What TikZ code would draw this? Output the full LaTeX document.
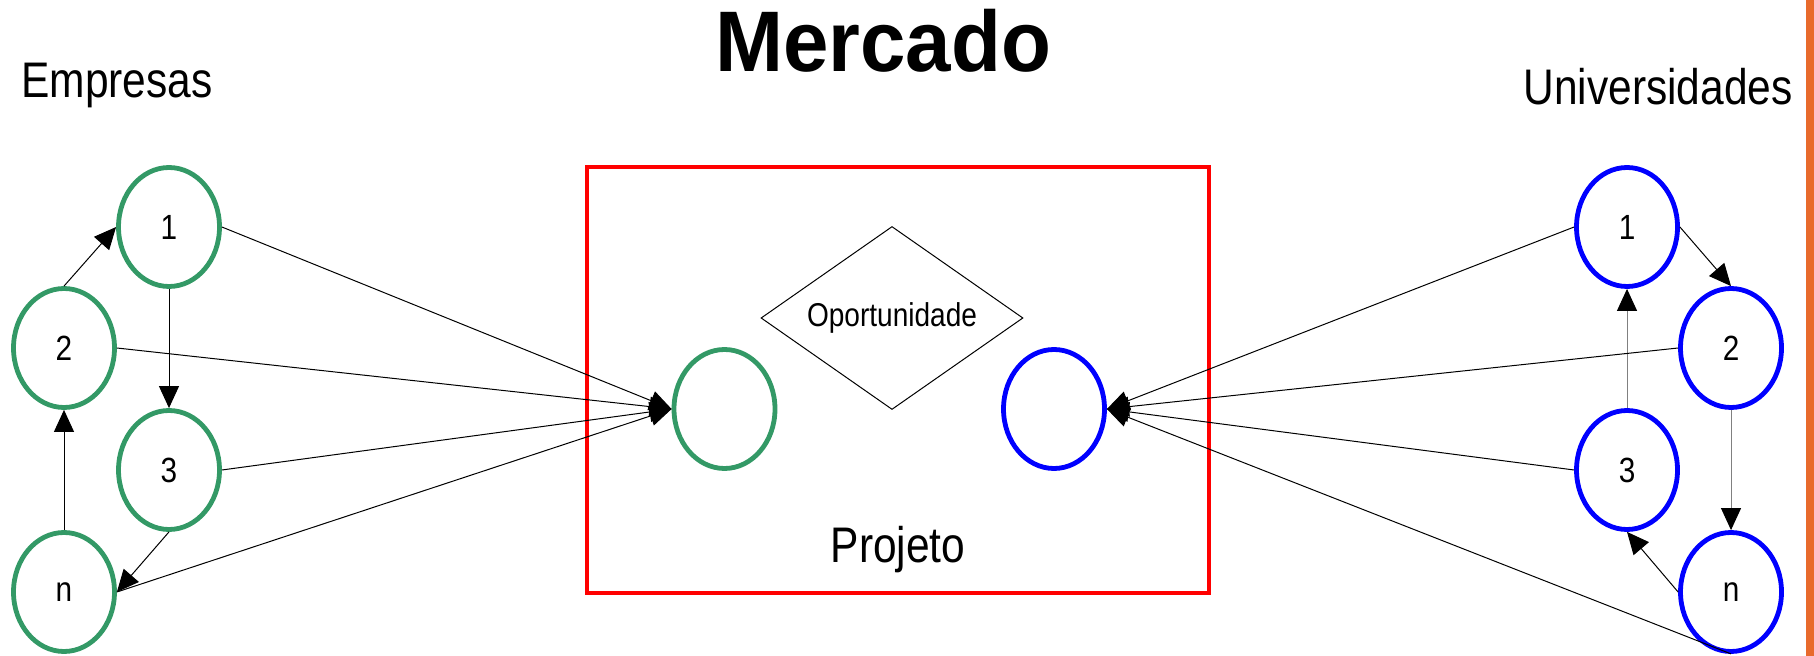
\documentclass[tikz,border=0pt]{standalone}
\usepackage{fontspec}
\setmainfont{Liberation Sans}
\usepackage{graphicx}
\usetikzlibrary{shapes.geometric,arrows.meta}
\definecolor{empgreen}{RGB}{51,153,102}
\definecolor{barorange}{RGB}{232,106,44}
\def \narrow#1{\scalebox{0.85}[1]{#1}}

\tikzset{
  agent/.style={ellipse, line width=2.4pt, minimum width=50.5pt, minimum height=59.5pt,
    inner sep=0pt, font=\fontsize{17.5}{17.5}\selectfont},
  empresa/.style={agent, draw=empgreen},
  univ/.style={agent, draw=blue},
  link/.style={line width=0.5pt, -{Triangle[length=11pt,width=10pt,color=black]}},
  label/.style={anchor=base, font=\fontsize{25}{25}\selectfont}
}

\begin{document}
\begin{tikzpicture}[x=0.5pt,y=-0.5pt]
  \useasboundingbox (0,0) rectangle (1814,656);
  \fill[barorange] (1806,0) rectangle (1814,656);

  % titulos
  \node[anchor=base, font=\fontsize{43}{43}\selectfont\bfseries] (mercado) at (883,72) {\scalebox{0.95}[1]{Mercado}};
  \node[label] (empresas) at (117,98) {\narrow{Empresas}};
  \node[label] (universidades) at (1658,105) {\narrow{Universidades}};

  % projeto
  \draw[red, line width=2pt] (587,167) rectangle (1209,593);
  \node[label] (projeto) at (898,563) {\narrow{Projeto}};
  \node[diamond, aspect=1.43, draw, line width=0.5pt, minimum width=131pt, minimum height=91.5pt,
    inner sep=0pt, font=\fontsize{16.5}{16.5}\selectfont] (oport) at (892,318) {\narrow{Oportunidade}};
  \node[empresa] (pe) at (724.5,409) {};
  \node[univ] (pu) at (1054,409) {};

  % empresas
  \node[empresa] (e1) at (169,227) {\narrow{1}};
  \node[empresa] (e2) at (64,348) {\narrow{2}};
  \node[empresa] (e3) at (169,470) {\narrow{3}};
  \node[empresa] (en) at (64,592) {\narrow{n}};

  % universidades
  \node[univ] (u1) at (1627,227) {\narrow{1}};
  \node[univ] (u2) at (1731,348) {\narrow{2}};
  \node[univ] (u3) at (1627,470) {\narrow{3}};
  \node[univ] (un) at (1731,592) {\narrow{n}};

  \draw[link] (e2.north) -- (e1.west);
  \draw[link] (e1.south) -- (e3.north);
  \draw[link] (en.north) -- (e2.south);
  \draw[link] (e3.south) -- (en.east);
  \foreach \i in {1,2,3,n}
    \draw[link] (e\i.east) -- (pe.west);

  \draw[link] (u1.east) -- (u2.north);
  \draw[link, draw=gray] (u2.south) -- (un.north);
  \draw[link, draw=gray] (u3.north) -- (u1.south);
  \draw[link] (un.west) -- (u3.south);
  \foreach \i in {1,2,3}
    \draw[link] (u\i.west) -- (pu.east);
  \draw[link] (un.south) -- (pu.east);

\end{tikzpicture}
\end{document}
